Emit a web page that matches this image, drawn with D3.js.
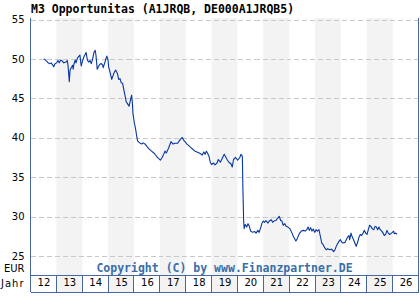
<!DOCTYPE html>
<html>
<head>
<meta charset="utf-8">
<script src="https://cdn.jsdelivr.net/npm/d3@7"></script>
<style>
  body { margin: 0; background: #fff; }
  svg { display: block; }
</style>
</head>
<body>
<div id="chart"></div>
<script>
// M3 Opportunitas price chart
const title = "M3 Opportunitas (A1JRQB, DE000A1JRQB5)";
const years = [2012, 2013, 2014, 2015, 2016, 2017, 2018, 2019, 2020, 2021, 2022, 2023, 2024, 2025, 2026];
const yearLabels = ["12", "13", "14", "15", "16", "17", "18", "19", "20", "21", "22", "23", "24", "25", "26"];
const yTicks = [25, 30, 35, 40, 45, 50, 55];

// decimal years
const dates = [2012.52,2012.60,2012.68,2012.75,2012.80,2012.90,2012.94,2013.01,2013.06,2013.11,
  2013.17,2013.24,2013.29,2013.37,2013.42,2013.45,2013.48,2013.50,2013.53,2013.58,
  2013.63,2013.65,2013.68,2013.73,2013.76,2013.81,2013.86,2013.91,2013.96,2014.02,
  2014.07,2014.15,2014.20,2014.25,2014.30,2014.35,2014.40,2014.45,2014.50,2014.53,
  2014.58,2014.64,2014.69,2014.74,2014.79,2014.81,2014.87,2014.92,2014.95,2015.00,
  2015.02,2015.07,2015.14,2015.23,2015.29,2015.36,2015.41,2015.46,2015.51,2015.56,
  2015.59,2015.65,2015.70,2015.76,2015.81,2015.86,2015.88,2015.91,2015.94,2015.96,
  2016.01,2016.07,2016.11,2016.14,2016.22,2016.30,2016.35,2016.43,2016.50,2016.58,
  2016.68,2016.79,2016.89,2017.02,2017.09,2017.15,2017.20,2017.25,2017.30,2017.35,
  2017.43,2017.51,2017.59,2017.69,2017.77,2017.82,2017.87,2017.92,2017.97,2018.05,
  2018.15,2018.25,2018.36,2018.46,2018.56,2018.64,2018.70,2018.75,2018.80,2018.85,
  2018.90,2018.95,2019.00,2019.08,2019.13,2019.21,2019.26,2019.34,2019.41,2019.49,
  2019.55,2019.60,2019.67,2019.75,2019.80,2019.85,2019.93,2020.01,2020.09,2020.14,
  2020.19,2020.21,2020.24,2020.26,2020.30,2020.36,2020.41,2020.46,2020.51,2020.59,
  2020.67,2020.72,2020.79,2020.84,2020.90,2020.95,2021.00,2021.05,2021.10,2021.18,
  2021.23,2021.31,2021.36,2021.41,2021.49,2021.54,2021.62,2021.67,2021.72,2021.77,
  2021.83,2021.88,2021.95,2022.03,2022.11,2022.16,2022.21,2022.26,2022.31,2022.39,
  2022.47,2022.55,2022.62,2022.68,2022.73,2022.78,2022.83,2022.88,2022.93,2022.99,
  2023.04,2023.09,2023.15,2023.20,2023.26,2023.31,2023.36,2023.43,2023.49,2023.57,
  2023.64,2023.72,2023.77,2023.82,2023.87,2023.92,2023.98,2024.03,2024.08,2024.16,
  2024.21,2024.26,2024.31,2024.34,2024.39,2024.44,2024.49,2024.54,2024.59,2024.65,
  2024.70,2024.75,2024.80,2024.85,2024.90,2024.96,2025.01,2025.06,2025.11,2025.16,
  2025.21,2025.27,2025.32,2025.37,2025.42,2025.47,2025.52,2025.58,2025.63,2025.68,
  2025.73,2025.78,2025.83,2025.88,2025.93,2025.99,2026.04,2026.06,2026.12,2026.17];

// EUR
const prices = [50.0,49.8,49.5,49.4,49.5,49.0,49.35,49.5,49.8,49.5,
  49.85,49.7,49.5,49.6,49.8,49.2,47.95,47.1,48.6,48.9,
  49.2,48.7,49.35,49.85,49.5,50.07,50.3,50.5,49.1,49.85,
  50.3,50.8,49.85,49.6,49.8,49.4,49.95,50.8,51.1,50.5,
  48.7,49.1,49.35,49.4,49.2,48.9,49.5,50.07,50.36,49.8,
  49.0,48.4,47.4,48.24,48.6,48.16,47.4,47.5,46.97,46.9,
  46.4,45.4,44.56,44.26,44.0,44.7,45.0,45.4,44.35,43.1,
  42.0,40.96,40.1,39.6,39.35,39.2,39.35,39.2,38.9,38.6,
  38.3,38.0,37.57,37.15,37.5,37.9,38.3,38.07,38.4,38.8,
  39.5,39.2,39.3,39.3,39.7,39.9,40.03,39.7,39.5,39.2,
  38.9,38.6,38.3,38.16,38.0,37.8,38.2,37.9,38.3,38.0,
  37.66,36.9,36.6,36.8,36.55,36.8,37.24,36.9,37.36,37.9,
  37.57,37.24,36.9,36.7,36.3,37.24,37.5,37.15,37.5,37.9,
  37.66,33.75,29.5,28.47,29.0,28.67,29.1,28.76,28.16,28.0,
  28.1,27.9,28.25,28.0,28.6,29.18,29.43,29.27,29.5,29.18,
  29.43,29.6,29.27,29.43,29.5,29.74,30.03,29.5,29.43,28.9,
  29.1,28.76,28.67,28.47,27.9,27.5,27.2,26.9,27.2,27.83,
  28.16,28.25,28.16,28.34,28.67,28.25,28.6,28.16,28.42,28.0,
  28.34,28.16,28.34,27.6,26.64,26.47,26.13,25.8,25.93,25.8,
  25.88,25.55,25.8,26.22,26.56,26.82,27.07,26.77,26.64,26.73,
  27.07,27.4,27.6,27.07,27.9,27.4,27.07,26.64,26.22,26.77,
  27.4,27.74,27.6,27.83,28.25,27.9,27.74,28.34,28.9,28.76,
  28.47,28.34,28.76,28.67,28.34,28.67,28.34,28.16,27.9,27.6,
  27.74,28.25,27.9,27.74,27.83,28.0,28.16,27.83,27.9,27.74];

const width = 420, height = 300;
const plotLeft = 30.5, plotRight = 418.5;
const plotTop = 18, plotBottom = 275, rowBottom = 292;
const frameColor = "#46699a";
const mono = "'DejaVu Sans Mono', monospace";
const sans = "'DejaVu Sans', sans-serif";

const svg = d3.select("#chart")
  .append("svg")
  .attr("width", width)
  .attr("height", height);

const x = d3.scaleLinear().domain([2012, 2027]).range([plotLeft, plotRight]);
const y = d3.scaleLinear().domain([25, 55]).range([256, 19.5]);

// alternating year bands (odd years shaded)
svg.selectAll("rect.band")
  .data(years.filter(yr => yr % 2 === 1))
  .enter()
  .append("rect")
  .attr("class", "band")
  .attr("x", d => x(d))
  .attr("y", plotTop)
  .attr("width", d => x(d + 1) - x(d))
  .attr("height", rowBottom - plotTop)
  .attr("fill", "#f3f3f3");

// dashed grid
const grid = svg.append("g")
  .attr("transform", `translate(${plotLeft},0)`)
  .call(d3.axisLeft(y).tickValues(yTicks).tickSize(-(plotRight - plotLeft)).tickFormat(""));
grid.select(".domain").remove();
grid.selectAll("line")
  .attr("stroke", "#c8c8c8")
  .attr("stroke-dasharray", "5,3")
  .attr("shape-rendering", "crispEdges");

// y labels
const yAxis = svg.append("g")
  .attr("transform", `translate(${plotLeft},0)`)
  .call(d3.axisLeft(y).tickValues(yTicks).tickSize(0).tickPadding(6));
yAxis.select(".domain").remove();
yAxis.selectAll("text")
  .attr("font-family", sans)
  .attr("font-size", 10)
  .attr("fill", "#000");

// price line
const points = dates.map((t, i) => ({ t: t, v: prices[i] }));
const line = d3.line().x(d => x(d.t)).y(d => y(d.v));
svg.append("path")
  .datum(points)
  .attr("d", line)
  .attr("fill", "none")
  .attr("stroke", "#0636a0")
  .attr("stroke-width", 1.1)
  .attr("stroke-linejoin", "round");

// year row
const xAxis = svg.append("g")
  .attr("transform", `translate(0,${plotBottom})`)
  .call(d3.axisBottom(x)
    .tickValues(years.map(d => d + 0.5))
    .tickFormat((d, i) => yearLabels[i])
    .tickSize(0)
    .tickPadding(4));
xAxis.select(".domain").remove();
xAxis.selectAll("text")
  .attr("font-family", sans)
  .attr("font-size", 10)
  .attr("fill", "#000");

// frame
const frame = svg.append("g")
  .attr("stroke", frameColor)
  .attr("shape-rendering", "crispEdges");
frame.append("line").attr("x1", plotLeft).attr("x2", plotLeft).attr("y1", plotTop).attr("y2", rowBottom);
frame.append("line").attr("x1", plotRight).attr("x2", plotRight).attr("y1", plotTop).attr("y2", rowBottom);
frame.append("line").attr("x1", plotLeft).attr("x2", plotRight).attr("y1", plotBottom).attr("y2", plotBottom);
frame.append("line").attr("x1", plotLeft).attr("x2", plotRight).attr("y1", rowBottom).attr("y2", rowBottom);
frame.selectAll("line.div")
  .data(years.slice(1))
  .enter()
  .append("line")
  .attr("class", "div")
  .attr("x1", d => x(d)).attr("x2", d => x(d))
  .attr("y1", plotBottom).attr("y2", rowBottom);

// texts
svg.append("text")
  .attr("x", 31)
  .attr("y", 13)
  .attr("font-family", mono)
  .attr("font-weight", "bold")
  .attr("font-size", 11.5)
  .text(title);

svg.append("text")
  .attr("x", (plotLeft + plotRight) / 2)
  .attr("y", 272)
  .attr("text-anchor", "middle")
  .attr("font-family", mono)
  .attr("font-weight", "bold")
  .attr("font-size", 11.5)
  .attr("fill", "#3a6ea8")
  .text("Copyright (C) by www.Finanzpartner.DE");

svg.append("text")
  .attr("x", 24.5)
  .attr("y", 272)
  .attr("text-anchor", "end")
  .attr("font-family", sans)
  .attr("font-size", 10)
  .text("EUR");

svg.append("text")
  .attr("x", 1)
  .attr("y", 287)
  .attr("font-family", sans)
  .attr("font-size", 10)
  .attr("letter-spacing", 1)
  .text("Jahr");
</script>
</body>
</html>
